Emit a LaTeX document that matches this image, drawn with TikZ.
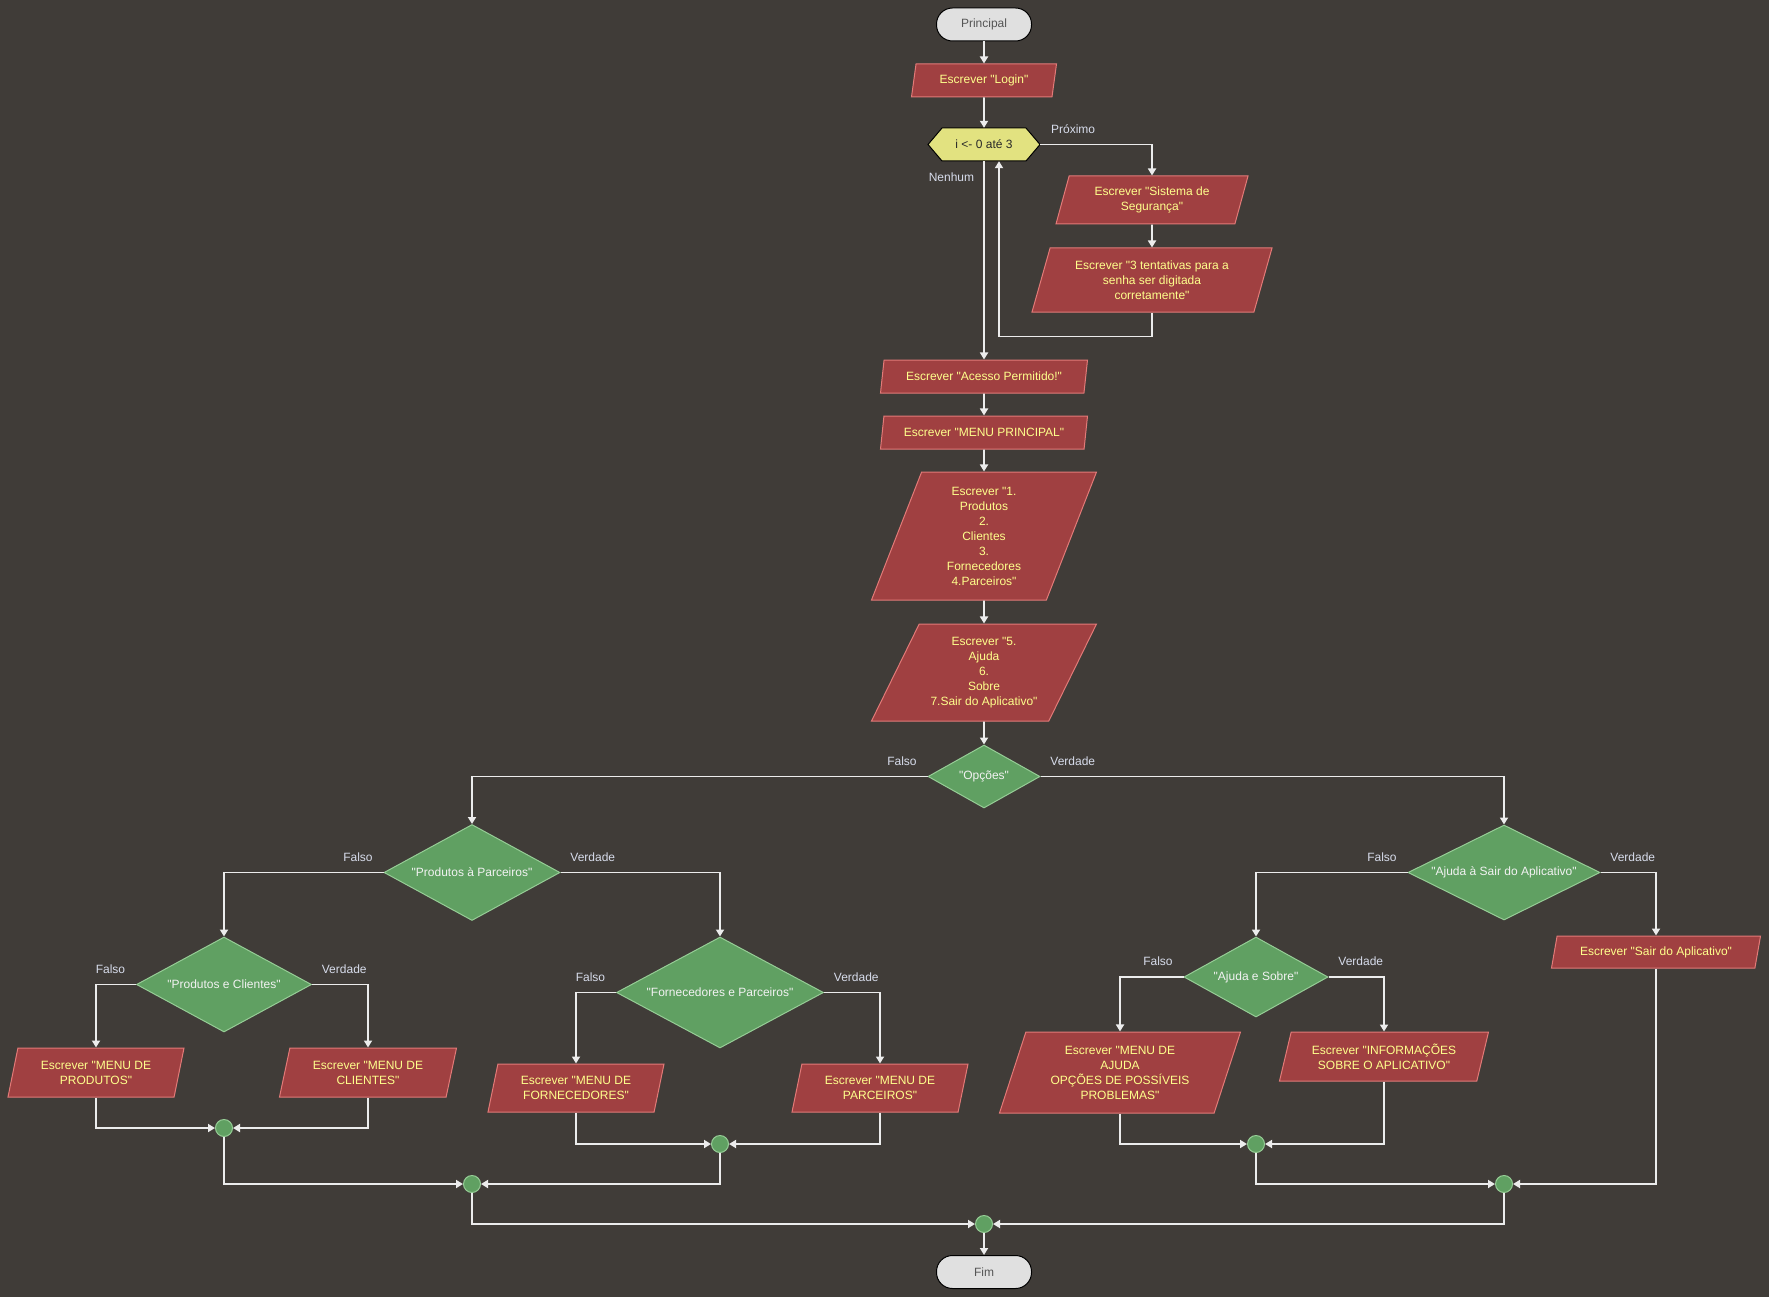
\documentclass[tikz,border=0pt]{standalone}
\usepackage{fontspec}
\setmainfont{Liberation Sans}[Ligatures=TeXOff]
\usepackage{tikz}
\usetikzlibrary{positioning,arrows.meta,calc,shapes.geometric}
\definecolor{bgcol}{RGB}{64,60,56}
\definecolor{iofill}{RGB}{160,64,65}
\definecolor{ioline}{RGB}{226,122,120}
\definecolor{iotext}{RGB}{255,255,140}
\definecolor{decfill}{RGB}{96,160,98}
\definecolor{decline}{RGB}{150,205,150}
\definecolor{dectext}{RGB}{242,242,242}
\definecolor{hexfill}{RGB}{226,226,128}
\definecolor{hextext}{RGB}{40,40,40}
\definecolor{termfill}{RGB}{224,224,224}
\definecolor{termtext}{RGB}{85,85,85}
\definecolor{wirecol}{RGB}{236,236,236}
\definecolor{lblcol}{RGB}{215,220,235}
\newcommand{\flowfont}{\fontsize{12}{15}\selectfont}
\tikzset{
  wire/.style={-{Triangle[length=7pt,width=8pt]},line width=1.8pt,draw=wirecol},
  wh/.style 2 args={minimum width=#1pt,minimum height=#2pt},
  io/.style={trapezium,trapezium left angle=#1,trapezium right angle={180-#1},
    trapezium stretches body,draw=ioline,fill=iofill,text=iotext,line width=1pt,
    inner sep=0pt,align=center,font=\flowfont},
  dec/.style={diamond,aspect=2,draw=decline,fill=decfill,text=dectext,
    line width=1pt,inner sep=0pt,font=\flowfont},
  term/.style={rectangle,rounded corners=16pt,draw=black,fill=termfill,text=termtext,
    line width=1pt,minimum width=95pt,minimum height=33pt,font=\flowfont},
  jn/.style={circle,draw=decline,fill=decfill,line width=1pt,minimum size=17pt,inner sep=0pt},
  lbl/.style={text=lblcol,inner sep=0pt,font=\flowfont},
  hexn/.style={minimum width=112pt,minimum height=33pt,inner sep=0pt,text=hextext,font=\flowfont},
}
\begin{document}
\begin{tikzpicture}[x=1pt,y=-1pt]
  \fill[bgcol] (0,0) rectangle (1769,1297);
  \useasboundingbox (0,0) rectangle (1769,1297);
  % ---- main column ----
  \node[term] (ini) at (984,24.5) {Principal};
  \node[io=68,wh={145}{33}] (login) at (984,80.5) {Escrever "Login"};
  \filldraw[fill=hexfill,draw=black,line width=1pt]
    (928,144.5) -- (942,128) -- (1026,128) -- (1040,144.5) -- (1026,161) -- (942,161) -- cycle;
  \node[hexn] (laco) at (984,144.5) {i <- 0 até 3};
  \node[io=63.4,wh={192}{48}] (seg) at (1152,200) {Escrever "Sistema de\\Segurança"};
  \node[io=65,wh={240}{64}] (tent) at (1152,280) {Escrever "3 tentativas para a\\senha ser digitada\\corretamente"};
  \coordinate (ret) at ($(laco.south)+(15,0)$);
  \node[io=68,wh={207}{33}] (acesso) at (984,376.5) {Escrever "Acesso Permitido!"};
  \node[io=68,wh={207}{33}] (menup) at (984,432.5) {Escrever "MENU PRINCIPAL"};
  \node[io=63,wh={225}{128}] (menu1) at (984,536) {Escrever "1.\\Produtos\\2.\\Clientes\\3.\\Fornecedores\\4.Parceiros"};
  \node[io=56,wh={225}{97}] (menu5) at (984,672.5) {Escrever "5.\\Ajuda\\6.\\Sobre\\7.Sair do Aplicativo"};
  \node[dec,wh={112}{63}] (opc) at (984,776.5) {"Opções"};
  % ---- left half ----
  \node[dec,wh={176}{96}] (d1) at (472,872.5) {"Produtos à Parceiros"};
  \node[dec,wh={175}{95}] (d2) at (224,984.5) {"Produtos e Clientes"};
  \node[io=67,wh={176}{49}] (prod) at (96,1072.5) {Escrever "MENU DE\\PRODUTOS"};
  \node[io=66,wh={177}{49}] (cli) at (368,1072.5) {Escrever "MENU DE\\CLIENTES"};
  \node[jn] (j1) at (224,1128) {};
  \node[dec,wh={207}{111}] (d3) at (720,992.5) {"Fornecedores e Parceiros"};
  \node[io=67,wh={176}{48}] (forn) at (576,1088) {Escrever "MENU DE\\FORNECEDORES"};
  \node[io=67,wh={176}{48}] (parc) at (880,1088) {Escrever "MENU DE\\PARCEIROS"};
  \node[jn] (j2) at (720,1144) {};
  \node[jn] (j12) at (472,1184) {};
  % ---- right half ----
  \node[dec,wh={192}{95}] (d4) at (1504,872.5) {"Ajuda à Sair do Aplicativo"};
  \node[io=63.4,wh={209}{32}] (sair) at (1656,952) {Escrever "Sair do Aplicativo"};
  \node[dec,wh={144}{80}] (d5) at (1256,977) {"Ajuda e Sobre"};
  \node[io=63.7,wh={241}{81}] (ajuda) at (1120,1072.5) {Escrever "MENU DE\\AJUDA\\OPÇÕES DE POSSÍVEIS\\PROBLEMAS"};
  \node[io=65.5,wh={209}{49}] (info) at (1384,1056.5) {Escrever "INFORMAÇÕES\\SOBRE O APLICATIVO"};
  \node[jn] (j3) at (1256,1144) {};
  \node[jn] (j45) at (1504,1184) {};
  \node[jn] (jf) at (984,1224) {};
  \node[term] (fim) at (984,1272) {Fim};
  % connectors
  \draw[wire] (ini) -- (login);
  \draw[wire] (login) -- (laco);
  \draw[wire] (laco.east) node[lbl,above right=10pt and 10pt] (prox) {Próximo} -| (seg.north);
  \draw[wire] (seg) -- (tent);
  \draw[wire] (tent.south) -- ++(0,24) -| (ret);
  \draw[wire] (laco.south) node[lbl,below left=11pt and 9pt] (nenh) {Nenhum} -- (acesso.north);
  \draw[wire] (acesso) -- (menup);
  \draw[wire] (menup) -- (menu1);
  \draw[wire] (menu1) -- (menu5);
  \draw[wire] (menu5) -- (opc);
  \draw[wire] (opc.west) node[lbl,above left=10pt and 10pt] (f0) {Falso} -| (d1.north);
  \draw[wire] (opc.east) node[lbl,above right=10pt and 9pt] (v0) {Verdade} -| (d4.north);
  \draw[wire] (d1.west) node[lbl,above left=10pt and 10pt] (f1) {Falso} -| (d2.north);
  \draw[wire] (d1.east) node[lbl,above right=10pt and 9pt] (v1) {Verdade} -| (d3.north);
  \draw[wire] (d2.west) node[lbl,above left=10pt and 10pt] (f2) {Falso} -| (prod.north);
  \draw[wire] (d2.east) node[lbl,above right=10pt and 9pt] (v2) {Verdade} -| (cli.north);
  \draw[wire] (prod.south) |- (j1.west);
  \draw[wire] (cli.south) |- (j1.east);
  \draw[wire] (d3.west) node[lbl,above left=10pt and 10pt] (f3) {Falso} -| (forn.north);
  \draw[wire] (d3.east) node[lbl,above right=10pt and 9pt] (v3) {Verdade} -| (parc.north);
  \draw[wire] (forn.south) |- (j2.west);
  \draw[wire] (parc.south) |- (j2.east);
  \draw[wire] (j1.south) |- (j12.west);
  \draw[wire] (j2.south) |- (j12.east);
  \draw[wire] (d4.west) node[lbl,above left=10pt and 10pt] (f4) {Falso} -| (d5.north);
  \draw[wire] (d4.east) node[lbl,above right=10pt and 9pt] (v4) {Verdade} -| (sair.north);
  \draw[wire] (d5.west) node[lbl,above left=10pt and 10pt] (f5) {Falso} -| (ajuda.north);
  \draw[wire] (d5.east) node[lbl,above right=10pt and 9pt] (v5) {Verdade} -| (info.north);
  \draw[wire] (ajuda.south) |- (j3.west);
  \draw[wire] (info.south) |- (j3.east);
  \draw[wire] (j3.south) |- (j45.west);
  \draw[wire] (sair.south) |- (j45.east);
  \draw[wire] (j12.south) |- (jf.west);
  \draw[wire] (j45.south) |- (jf.east);
  \draw[wire] (jf) -- (fim);
\end{tikzpicture}
\end{document}
